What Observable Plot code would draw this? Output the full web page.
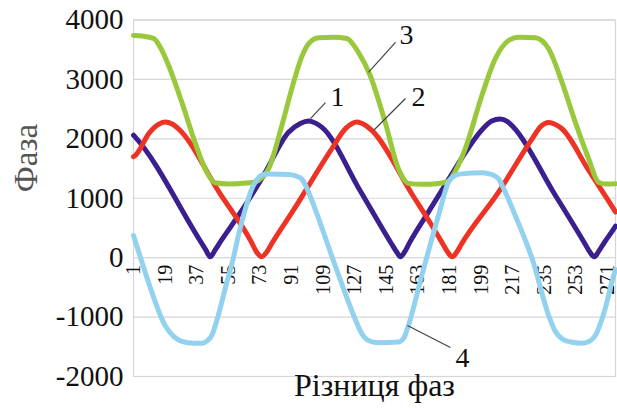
<!DOCTYPE html>
<html>
<head>
<meta charset="utf-8">
<script src="https://cdn.jsdelivr.net/npm/d3@7"></script>
<script src="https://cdn.jsdelivr.net/npm/@observablehq/plot@0.6"></script>
<style>
  html, body { margin: 0; padding: 0; background: #fff; }
  #chart svg { display: block; }
  #chart svg, #chart svg text { font-family: "Times New Roman", Times, "Liberation Serif", Tinos, "DejaVu Serif", "Noto Serif", FreeSerif, serif !important; }
</style>
</head>
<body>
<div id="chart"></div>
<script>
// ---- Data ----
const yTicks = [-2000, -1000, 0, 1000, 2000, 3000, 4000];
const xTicks = [1, 19, 37, 55, 73, 91, 109, 127, 145, 163, 181, 199, 217, 235, 253, 271];
const yTitle = "Фаза";
const xTitle = "Різниця фаз";

// Series 1 (purple)
const s1X = [1, 2, 38, 42, 44.7, 47.5, 51, 60.8, 75, 89.3, 96, 100.7, 105, 108.2, 130, 148, 151, 153, 155.5, 158, 169, 183.2, 187.7, 200, 205, 209.8, 214, 217.4, 240, 258, 261, 263.5, 266, 269, 274.4, 275.5];
const s1Y = [2060, 2028, 330, 140, 15, 130, 290, 710, 1380, 2112, 2260, 2300, 2260, 2197, 1130, 230, 90, 15, 100, 240, 770, 1450, 1664, 2170, 2300, 2335, 2290, 2197, 1110, 240, 90, 15, 110, 250, 480, 530];

// Series 2 (red)
const s2X = [1, 2, 10, 15, 19, 23, 26.6, 50, 68, 71, 74, 77, 80, 92.1, 113.9, 122, 128.2, 133, 136.7, 160, 170.9, 177, 180, 182.5, 185, 188, 208.9, 228, 233, 237.4, 242, 245, 260, 274.4, 275.5];
const s2Y = [1700, 1720, 2100, 2240, 2285, 2250, 2169, 1090, 270, 100, 15, 100, 250, 800, 1832, 2180, 2285, 2230, 2141, 1050, 542, 240, 90, 15, 90, 240, 1103, 2000, 2210, 2275, 2230, 2169, 1480, 822, 770];

// Series 3 (green)
const s3X = [1, 6, 12.4, 17, 21, 28.5, 36, 42.7, 47.5, 55, 65, 70.3, 74, 77.9, 85.5, 91.2, 96.8, 101, 106.4, 115, 122.5, 129, 135.8, 144.3, 151.9, 157.6, 165, 175, 180.4, 183.2, 189.9, 199.4, 207, 214.6, 220.3, 229.8, 237.4, 245, 252.6, 260.2, 265.8, 270, 275.5];
const s3Y = [3740, 3730, 3690, 3500, 3235, 2617, 1944, 1439, 1260, 1240, 1255, 1275, 1340, 1495, 2225, 2850, 3380, 3610, 3700, 3710, 3690, 3459, 3066, 2281, 1496, 1250, 1235, 1250, 1290, 1400, 1832, 2729, 3346, 3655, 3710, 3700, 3515, 2954, 2281, 1665, 1270, 1240, 1245];

// Series 4 (light blue)
const s4X = [1, 5, 9.5, 19, 24, 28.5, 35, 39.9, 43, 45.6, 49, 53.2, 57.9, 60.8, 65, 68, 71, 74, 77.9, 89.3, 93, 96.8, 100, 104.4, 115.8, 127.2, 131, 134.8, 140, 151.9, 155, 157.6, 165.2, 174.7, 180.4, 184, 187.7, 199.4, 205, 208.9, 212, 218.4, 228.5, 237.4, 241, 245, 250, 256.4, 261, 264, 267, 269.6, 273.4, 275.5];
const s4Y = [373, 0, -412, -1141, -1330, -1410, -1440, -1440, -1400, -1309, -1000, -523, 0, 380, 850, 1130, 1300, 1390, 1410, 1400, 1380, 1326, 1150, 822, -131, -1029, -1280, -1393, -1430, -1420, -1350, -1141, -299, 710, 1270, 1380, 1410, 1430, 1400, 1326, 1150, 710, -60, -973, -1230, -1364, -1420, -1440, -1400, -1309, -1100, -861, -412, -200];

// Series number labels and leader lines
const labelText = ["1", "2", "3", "4"];
const labelX = [117.2, 163.3, 156.5, 188.4];
const labelY = [2696, 2696, 3740, -1683];
const leadX1 = [110.3, 155.9, 150.2, 181.5];
const leadY1 = [2609, 2679, 3622, -1511];
const leadX2 = [101.8, 137.7, 134.8, 157];
const leadY2 = [2339, 2141, 3117, -1141];

// ---- Styles ----
const colors = ["#3b1f8f", "#ee3224", "#9ac83c", "#93d2ef"];
const series = [[s1X, s1Y], [s2X, s2Y], [s3X, s3Y], [s4X, s4Y]];

const chart = Plot.plot({
  width: 617,
  height: 408,
  marginLeft: 133,
  marginRight: 2,
  marginTop: 19.5,
  marginBottom: 32,
  style: { background: "#fff", color: "#111" },
  x: { domain: [1, 275.5], axis: null },
  y: { domain: [-2000, 4000], axis: null },
  marks: [
    Plot.gridY(yTicks, { stroke: "#d6d6d6", strokeOpacity: 1, strokeWidth: 1.2 }),
    Plot.frame({ stroke: "#d6d6d6", strokeWidth: 1.2 }),
    Plot.axisY(yTicks, {
      tickSize: 0, tickPadding: 10, fontSize: 29,
      tickFormat: d => String(d), label: null, fill: "#111"
    }),
    Plot.text(xTicks, {
      x: d => d, y: 0, text: d => String(d), rotate: -90, textAnchor: "end",
      dy: 7, fontSize: 20, fill: "#111"
    }),
    ...series.map(([xs, ys], i) => Plot.line(xs, {
      x: xs, y: ys, stroke: colors[i], strokeWidth: 5, curve: "monotone-x"
    })),
    Plot.link(labelText, {
      x1: leadX1, y1: leadY1, x2: leadX2, y2: leadY2, stroke: "#444", strokeWidth: 1.2
    }),
    Plot.text(labelText, {
      x: labelX, y: labelY, text: d => d, fontSize: 28, fill: "#111"
    }),
    Plot.text([yTitle], {
      frameAnchor: "left", dx: -107, dy: -6, rotate: -90, text: d => d,
      fontSize: 33, fill: "#555"
    }),
    Plot.text([xTitle], {
      frameAnchor: "bottom", dy: 19, text: d => d,
      fontSize: 32, fill: "#111"
    })
  ]
});
document.getElementById("chart").appendChild(chart);
</script>
</body>
</html>
